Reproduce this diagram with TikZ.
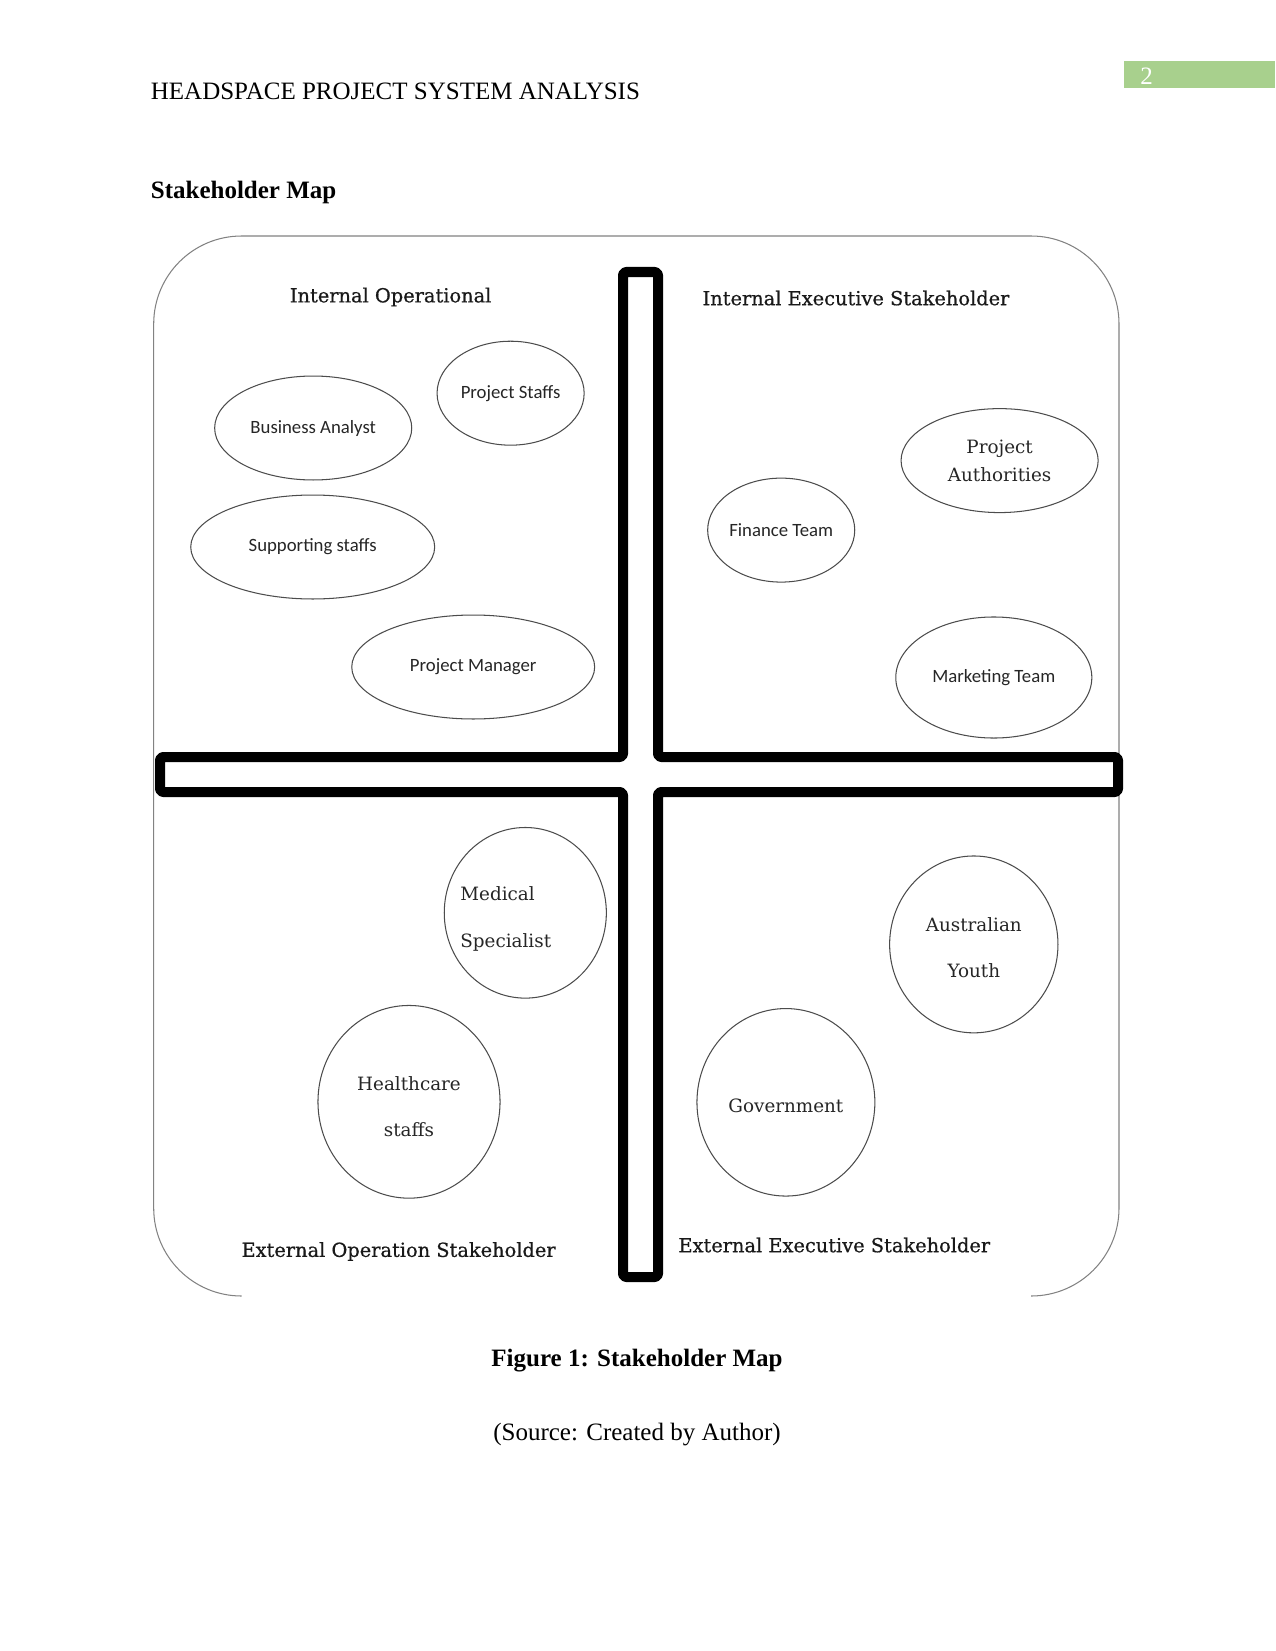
\documentclass[tikz,border=0pt]{standalone}
\usepackage{fontspec}
\setmainfont{Liberation Serif}
\newfontfamily\carlfont{Carlito}
\newfontfamily\dvserif{DejaVu Serif}
\newfontfamily\quadfont[FakeBold=0.6]{DejaVu Serif}
\usetikzlibrary{shapes.geometric}
\definecolor{pagegreen}{RGB}{168,208,141}
\definecolor{framegray}{RGB}{130,130,130}
\begin{document}
\begin{tikzpicture}[x=0.48pt,y=-0.48pt,
  bubble/.style={ellipse, draw=black!70, line width=0.5pt, inner sep=0pt},
  sanslabel/.style={font=\carlfont\fontsize{9}{11}\selectfont, text=black!85},
  seriflabel/.style={font=\dvserif\fontsize{8.8}{22.2}\selectfont, text=black!85, align=center, inner sep=0pt},
  quadlabel/.style={font=\quadfont\fontsize{9.3}{11}\selectfont, text=black!90, anchor=west, inner sep=0pt},
  pagetext/.style={font=\fontsize{12}{14}\selectfont, inner sep=0pt},
]
\useasboundingbox[fill=white] (0,0) rectangle (1275,1651);

% page header
\fill[pagegreen] (1124,61) rectangle (1275,88);
\node[pagetext, text=white] (pagenum) at (1146.5,76) {2};
\node[pagetext, anchor=west] (header) at (150.5,91) {HEADSPACE PROJECT SYSTEM ANALYSIS};
\node[pagetext, anchor=west, font=\bfseries\fontsize{12}{14}\selectfont] (title) at (150.5,192.5) {Stakeholder Map};

% frame (bottom edge open)
\draw[framegray, line width=0.5pt, rounded corners=42.2pt]
  (241.7,1296) -- (153.7,1296) -- (153.7,236) -- (1119,236) -- (1119,1296) -- (1031,1296);

% cross
\draw[line width=4.8pt, line join=round, rounded corners=1.5pt]
  (623,272) -- (658,272) -- (658,757) -- (1118,757) -- (1118,792) -- (658,792)
  -- (658,1277) -- (623,1277) -- (623,792) -- (160,792) -- (160,757) -- (623,757) -- cycle;

% quadrant labels
\node[quadlabel] (qio) at (289.5,297) {Internal Operational};
\node[quadlabel] (qie) at (702.2,298) {Internal Executive Stakeholder};
\node[quadlabel] (qeo) at (241.1,1251.5) {External Operation Stakeholder};
\node[quadlabel] (qee) at (678,1245) {External Executive Stakeholder};

% internal operational
\node[bubble, sanslabel, minimum width=94.6pt, minimum height=49.9pt] (ba) at (313.2,428) {Business Analyst};
\node[bubble, sanslabel, minimum width=70.6pt, minimum height=49.9pt] (ps) at (510.6,393.2) {Project Staffs};
\node[bubble, sanslabel, minimum width=117.1pt, minimum height=49.9pt] (ss) at (312.7,547) {Supporting staffs};
\node[bubble, sanslabel, minimum width=116.6pt, minimum height=49.9pt] (pm) at (473.2,667) {Project Manager};

% internal executive
\node[bubble, seriflabel, font=\dvserif\fontsize{8.8}{13.6}\selectfont, minimum width=94.6pt, minimum height=49.9pt] (pa) at (999.6,460.6) {Project\\Authorities};
\node[bubble, sanslabel, minimum width=70.6pt, minimum height=49.9pt] (ft) at (781.2,530.1) {Finance Team};
\node[bubble, sanslabel, minimum width=94.1pt, minimum height=58.1pt] (mt) at (993.8,677.5) {Marketing Team};

% external operation
\node[bubble, minimum width=77.8pt, minimum height=81.9pt] (ms) at (525.3,912.8) {};
\node[seriflabel, align=left, anchor=west] (mstext) at (460,919) {Medical\\Specialist};
\node[bubble, minimum width=87.4pt, minimum height=92.5pt] (hs) at (409,1101.8) {};
\node[seriflabel] (hstext) at (409,1106.5) {Healthcare\\staffs};

% external executive
\node[bubble, minimum width=80.8pt, minimum height=84.9pt] (ay) at (973.8,944.4) {};
\node[seriflabel] (aytext) at (973.8,947.5) {Australian\\Youth};
\node[bubble, minimum width=85.4pt, minimum height=90pt] (gv) at (785.9,1102.3) {};
\node[seriflabel] (gvtext) at (785.9,1106) {Government};

% caption
\node[pagetext, font=\bfseries\fontsize{12}{14}\selectfont] (caption) at (637,1361) {Figure 1: Stakeholder Map};
\node[pagetext] (source) at (637,1435) {(Source: Created by Author)};
\end{tikzpicture}
\end{document}
